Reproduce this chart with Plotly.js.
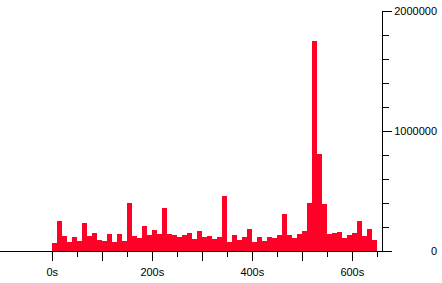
<!DOCTYPE html>
<html>
<head>
<meta charset="utf-8">
<script src="https://cdn.plot.ly/plotly-3.0.1.min.js"></script>
<style>html,body{margin:0;padding:0;background:#fff;}#chart{width:442px;height:283px;}</style>
</head>
<body>
<div id="chart"></div>
<script>
// bin start times (seconds), 10 s bins
var binStart = [0,10,20,30,40,50,60,70,80,90,100,110,120,130,140,150,160,170,180,190,
  200,210,220,230,240,250,260,270,280,290,300,310,320,330,340,350,360,370,380,390,
  400,410,420,430,440,450,460,470,480,490,500,510,520,530,540,550,560,570,580,590,
  600,610,620,630,640];
var counts = [64000,250000,125000,75000,117000,83000,233000,125000,150000,92000,
  83000,142000,75000,142000,83000,400000,125000,108000,208000,133000,
  175000,142000,358000,142000,133000,117000,133000,150000,100000,167000,
  117000,125000,100000,117000,458000,75000,133000,92000,117000,183000,
  75000,117000,83000,117000,108000,133000,308000,133000,108000,142000,
  167000,400000,1750000,810000,392000,142000,150000,158000,108000,133000,
  150000,250000,125000,183000,92000];
var xTickVals = [0,100,200,300,400,500,600];
var xTickText = ['0s','','200s','','400s','','600s'];
var xMinorVals = [50,150,250,350,450,550,650];
var yTickVals = [0,1000000,2000000];
var yTickText = ['\u2007\u2007\u2007\u2007\u2007\u20070','1000000','2000000'];
var yMinorVals = [200000,400000,600000,800000,1200000,1400000,1600000,1800000];

var trace = {
  type: 'bar',
  x: binStart,
  y: counts,
  offset: 0,
  width: 10,
  marker: {color: '#ff0026', line: {width: 0}},
  hoverinfo: 'none'
};
var layout = {
  width: 442, height: 283,
  margin: {l: 0, r: 60, t: 11, b: 32, pad: 0},
  paper_bgcolor: '#fff', plot_bgcolor: '#fff',
  showlegend: false,
  bargap: 0,
  font: {family: 'Liberation Sans, Arial, sans-serif', size: 11, color: '#000'},
  xaxis: {
    range: [-104.6, 659.4],
    showgrid: false, zeroline: false,
    showline: true, linecolor: '#000', linewidth: 1,
    tickmode: 'array', tickvals: xTickVals, ticktext: xTickText,
    ticks: 'outside', ticklen: 9, tickwidth: 1, tickcolor: '#000',
    ticklabelstandoff: 2,
    minor: {tickmode: 'array', tickvals: xMinorVals, ticks: 'outside', ticklen: 5, tickwidth: 1, tickcolor: '#000', showgrid: false},
    fixedrange: true
  },
  yaxis: {
    side: 'right',
    range: [0, 2000000],
    showgrid: false, zeroline: false,
    showline: true, linecolor: '#000', linewidth: 1,
    tickmode: 'array', tickvals: yTickVals, ticktext: yTickText,
    ticks: 'outside', ticklen: 9, tickwidth: 1, tickcolor: '#000',
    minor: {tickmode: 'array', tickvals: yMinorVals, ticks: 'outside', ticklen: 6, tickwidth: 1, tickcolor: '#000', showgrid: false},
    fixedrange: true
  }
};
Plotly.newPlot('chart', [trace], layout, {staticPlot: true, displayModeBar: false});
</script>
</body>
</html>
